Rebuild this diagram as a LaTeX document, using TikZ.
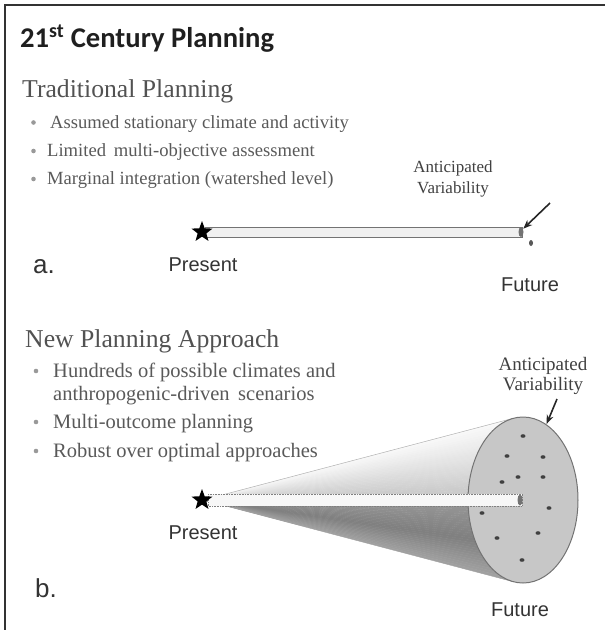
\documentclass[tikz,border=0pt]{standalone}
\usepackage{fontspec}
\setmainfont{Liberation Serif}
\newfontfamily\titlefont{Carlito}
\newfontfamily\labelfont{Liberation Sans}
\usetikzlibrary{arrows.meta,shapes.geometric}

\tikzset{
  txt/.style={inner sep=0pt, anchor=base west},
  heading/.style={txt, text=black!68, font=\fontsize{25.7}{28}\selectfont},
  itema/.style={txt, text=black!65, font=\fontsize{18.6}{21}\selectfont},
  itemb/.style={txt, text=black!65, font=\fontsize{20.5}{23}\selectfont},
  bulletdot/.style={circle, fill=black!40, inner sep=0pt, minimum size=4.6pt},
  varlabel/.style={inner sep=0pt, anchor=base, text=black!75},
  timelabel/.style={inner sep=0pt, anchor=base, text=black!80, font=\labelfont\fontsize{20}{22}\selectfont},
  panel/.style={inner sep=0pt, anchor=base west, text=black!80, font=\labelfont\fontsize{26}{28}\selectfont},
  presentstar/.style={star, star points=5, star point ratio=2.4, fill=black, inner sep=0pt, minimum size=22pt},
  pointer/.style={-{Stealth[length=9pt,width=7pt]}, line width=1.6pt, black!85, shorten >=-1pt},
  rodcap/.style={fill=black!55, draw=none},
  scen/.style={ellipse, fill=black!75, inner sep=0pt, minimum width=5pt, minimum height=3.6pt},
}

\begin{document}
\begin{tikzpicture}[x=1pt,y=-1pt]
\useasboundingbox (0,0) rectangle (605,630);

% frame
\draw[line width=1.4pt, black!80] (5,630) -- (5,5) -- (605,5);

% title
\node[txt, text=black!88, font=\titlefont\bfseries\fontsize{28.6}{31}\selectfont] (title) at (20,47) {21\textsuperscript{st} Century Planning};

% ---------- traditional planning ----------
\node[heading] (trad) at (22,97) {Traditional Planning};
\node[bulletdot] (ta1) at (33.5,122.5) {};
\node[bulletdot] (ta2) at (33.5,151) {};
\node[bulletdot] (ta3) at (33.5,179) {};
\node[itema] (a1) at (50,128) {Assumed stationary climate and activity};
\node[itema] (a2) at (47,156.5) {Limited\, multi-objective assessment};
\node[itema] (a3) at (47,184.5) {Marginal integration (watershed level)};

\node[varlabel, font=\fontsize{17}{19}\selectfont] (va1) at (453,172) {Anticipated};
\node[varlabel, font=\fontsize{17}{19}\selectfont] (va2) at (453,193) {Variability};

% narrow projection
\draw[fill=black!6, draw=black!55, line width=0.9pt] (205,227) rectangle (522,237);
\coordinate (rodaend) at (521,232);
\fill[rodcap] (rodaend) ellipse [x radius=2.5pt, y radius=5pt];
\node[presentstar] (stara) at (202,232) {};
\node[ellipse, fill=black!65, inner sep=0pt, minimum width=4pt, minimum height=6pt] (dota) at (531,243) {};
\coordinate (arrowa) at (550,203);
\coordinate (tipa) at (524,228);
\draw[pointer] (arrowa) -- (tipa);

\node[timelabel] (presa) at (203,271) {Present};
\node[timelabel] (futa) at (530,291) {Future};
\node[panel] (pa) at (33,273) {a.};

% ---------- new planning approach ----------
\node[heading] (newp) at (25,347) {New Planning Approach};
\node[bulletdot] (tb1) at (36,371) {};
\node[bulletdot] (tb2) at (36,422) {};
\node[bulletdot] (tb3) at (36,451) {};
\node[itemb] (b1) at (53,377) {Hundreds of possible climates and};
\node[itemb] (b2) at (53,400) {anthropogenic-driven\, scenarios};
\node[itemb] (b3) at (53,428) {Multi-outcome planning};
\node[itemb] (b4) at (53,457) {Robust over optimal approaches};

\node[varlabel, font=\fontsize{19}{21}\selectfont] (vb1) at (543,370) {Anticipated};
\node[varlabel, font=\fontsize{19}{21}\selectfont] (vb2) at (543,390) {Variability};

% cone of outcomes, shaded wedge by wedge from the top edge to the bottom edge
\coordinate (apex) at (203,500);
\def\ntop{418.2}
\def\nspan{163.6}
\foreach \i in {0,...,59} {
  \pgfmathsetmacro\ta{\i/60}
  \pgfmathsetmacro\tb{(\i+1)/60}
  \pgfmathsetmacro\tm{(\i+0.5)/60}
  \pgfmathsetmacro\k{\tm<0.5 ? 2+42*\tm : (\tm<0.78 ? 40+36*(\tm-0.5) : 50-60*(\tm-0.78))}
  \pgfmathsetmacro\ya{\ntop+\nspan*\ta}
  \pgfmathsetmacro\yb{\ntop+\nspan*\tb}
  \filldraw[fill=black!\k, draw=black!\k, line width=0.4pt] (apex) -- (513.5,\ya) -- (513.5,\yb) -- cycle;
}
\draw[black!30, line width=0.5pt] (apex) -- (513.5,418.2);
\node[ellipse, draw=black!55, line width=1pt, fill=black!22, minimum width=110pt, minimum height=166pt, inner sep=0pt] (face) at (523,500) {};

% scenario points
\foreach \px/\py [count=\i] in {523/436, 507/456, 543/457, 518/477, 543/477, 502/482, 549/508, 482/513, 538/533, 497/538, 522/560}
  \node[scen] (s\i) at (\px,\py) {};

% central projection through the cone
\draw[fill=black!3, draw=black!50, line width=0.6pt, densely dotted] (208,494) rectangle (522,506);
\coordinate (rodbend) at (520,500);
\fill[rodcap] (rodbend) ellipse [x radius=2.5pt, y radius=5.5pt];
\node[presentstar] (starb) at (202,500) {};

\coordinate (arrowb) at (557,399);
\coordinate (tipb) at (547,423);
\draw[pointer] (arrowb) -- (tipb);

\node[timelabel] (presb) at (203,539) {Present};
\node[timelabel] (futb) at (520,616) {Future};
\node[panel] (pb) at (35,597) {b.};
\end{tikzpicture}
\end{document}
